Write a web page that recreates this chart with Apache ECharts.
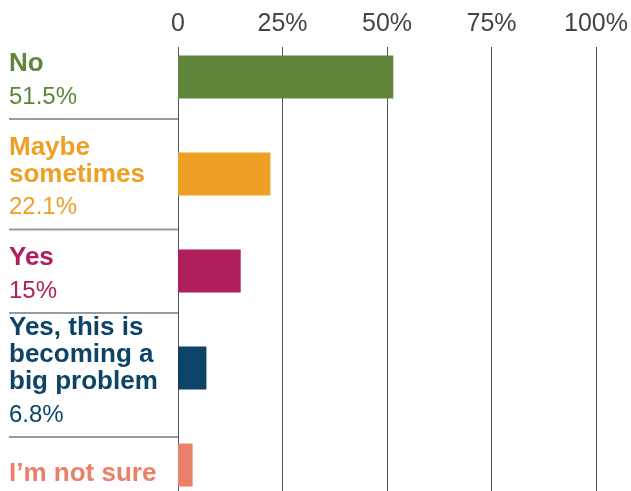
<!DOCTYPE html>
<html><head><meta charset="utf-8">
<script src="https://cdn.jsdelivr.net/npm/echarts@6/dist/echarts.min.js"></script>
<style>html,body{margin:0;padding:0;background:#fff}#c{width:631px;height:491px}</style>
</head><body><div id="c"></div>
<script>
const categories = ['No', 'Maybe sometimes', 'Yes', 'Yes, this is becoming a big problem', 'I’m not sure'];
const values = [51.5, 22.1, 15, 6.8, 3.5];
const colors = ['#5f863a', '#eea024', '#b01e5c', '#0c4366', '#e8806a'];
const tickValues = [0, 25, 50, 75, 100];
const tickLabels = ['0', '25%', '50%', '75%', '100%'];

const FONT = "'Liberation Sans', Arial, Helvetica, sans-serif";
const LABEL_WIDTH = 170;
const rich = { s: { width: 169, height: 2, lineHeight: 5, backgroundColor: '#9a9a9a' } };
colors.forEach((c, i) => {
  rich['n' + i] = { color: c, fontWeight: 'bold', fontSize: 26, lineHeight: 27, fontFamily: FONT };
  rich['p' + i] = { color: c, fontSize: 24, lineHeight: 39, fontFamily: FONT };
});

// greedy word wrap using the label font
const ctx = document.createElement('canvas').getContext('2d');
ctx.font = 'bold 26px ' + FONT;
function wrap(text) {
  const words = text.split(' ');
  const lines = [];
  let cur = '';
  words.forEach(w => {
    const t = cur ? cur + ' ' + w : w;
    if (cur && ctx.measureText(t).width > LABEL_WIDTH) { lines.push(cur); cur = w; }
    else cur = t;
  });
  if (cur) lines.push(cur);
  return lines;
}

const chart = echarts.init(document.getElementById('c'), null, { renderer: 'canvas' });
chart.setOption({
  animation: false,
  backgroundColor: '#fff',
  grid: [
    { left: 178, right: 35, top: 47, bottom: 0, outerBoundsMode: 'none' },
    { left: 178, right: 35, top: 28.5, height: 485, outerBoundsMode: 'none' }
  ],
  xAxis: [
    {
      gridIndex: 0, type: 'value', position: 'top', min: 0, max: 100, interval: 25,
      axisLine: { show: false }, axisTick: { show: false },
      splitLine: { show: true, lineStyle: { color: '#555', width: 1 } },
      axisLabel: {
        margin: 10, color: '#444', fontSize: 25, fontFamily: FONT,
        formatter: v => tickLabels[tickValues.indexOf(v)]
      }
    },
    { gridIndex: 1, type: 'value', min: 0, max: 100, show: false }
  ],
  yAxis: [
    { gridIndex: 0, type: 'value', show: false },
    {
      gridIndex: 1, type: 'category', inverse: true, data: categories,
      axisLine: { show: false }, axisTick: { show: false }, splitLine: { show: false },
      axisLabel: {
        align: 'left', margin: 169,
        padding: [18, 0, 0, 0],
        rich: rich,
        formatter: (value, index) => {
          const parts = wrap(value).map(l => '{n' + index + '|' + l + '}');
          if (index < categories.length - 1) {
            parts.push('{p' + index + '|' + values[index] + '%}');
            parts.push('{s|}');
          }
          return parts.join('\n');
        }
      }
    }
  ],
  series: [{
    type: 'bar', xAxisIndex: 1, yAxisIndex: 1, barWidth: 43,
    data: values.map((v, i) => ({ value: v, itemStyle: { color: colors[i] } }))
  }]
});
</script></body></html>
